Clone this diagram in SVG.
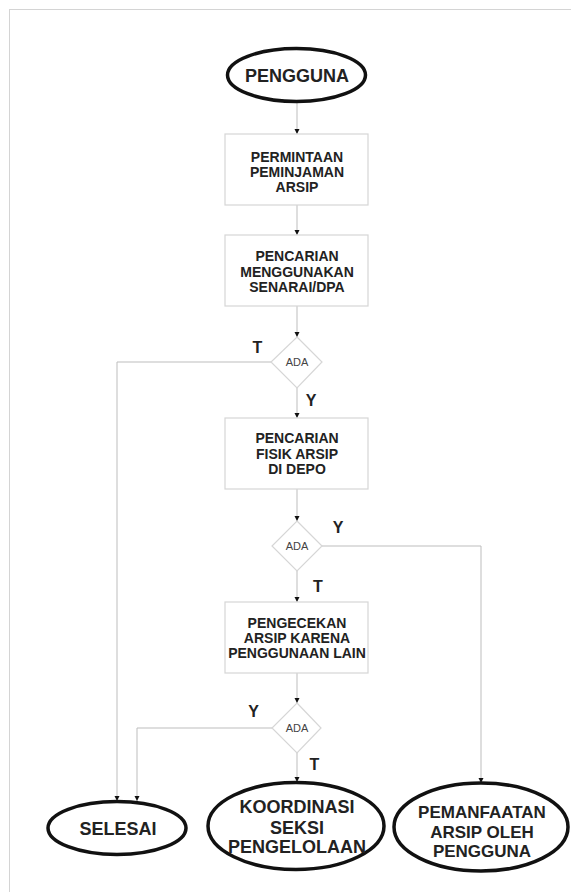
<svg xmlns="http://www.w3.org/2000/svg" width="571" height="892" viewBox="0 0 571 892">
<style>
.frame{fill:none;stroke:#d4d4d4;stroke-width:1}
.box{fill:#fff;stroke:#d6d6d6;stroke-width:1.2}
.dia{fill:#fff;stroke:#d6d6d6;stroke-width:1.2}
.term{fill:#fff;stroke:#111;stroke-width:3.5}
.bt{font-family:"Liberation Sans",Arial,sans-serif;font-weight:bold;font-size:14px;fill:#222;text-anchor:middle}
.tt{font-family:"Liberation Sans",Arial,sans-serif;font-weight:bold;font-size:18px;fill:#222;text-anchor:middle}
.dt{font-family:"Liberation Sans",Arial,sans-serif;font-size:11px;fill:#444;text-anchor:middle}
.lb{font-family:"Liberation Sans",Arial,sans-serif;font-weight:bold;font-size:16px;fill:#222;text-anchor:middle}
.con{fill:none;stroke:#bdbdbd;stroke-width:1}
</style>
<defs>
<marker id="ah" markerUnits="userSpaceOnUse" markerWidth="6" markerHeight="6" refX="5" refY="3" orient="auto">
<path d="M0,0.5 L5,3 L0,5.5 Z" fill="#111"/>
</marker>
</defs>
<rect class="frame" x="9.5" y="9.5" width="600" height="900"/>
<g id="connectors">
<path class="con" d="M297,103 V134" marker-end="url(#ah)"/>
<path class="con" d="M297,205 V235" marker-end="url(#ah)"/>
<path class="con" d="M297,306 V337" marker-end="url(#ah)"/>
<path class="con" d="M297,388 V418" marker-end="url(#ah)"/>
<path class="con" d="M271,362 H117 V801" marker-end="url(#ah)"/>
<path class="con" d="M297,489 V521" marker-end="url(#ah)"/>
<path class="con" d="M322,546 H481 V783" marker-end="url(#ah)"/>
<path class="con" d="M297,571 V602" marker-end="url(#ah)"/>
<path class="con" d="M297,673 V703" marker-end="url(#ah)"/>
<path class="con" d="M272,728 H137 V801" marker-end="url(#ah)"/>
<path class="con" d="M297,753 V782" marker-end="url(#ah)"/>
<text class="lb" x="257.5" y="353">T</text>
<text class="lb" x="311" y="406">Y</text>
<text class="lb" x="338" y="533">Y</text>
<text class="lb" x="318" y="592">T</text>
<text class="lb" x="253.5" y="717">Y</text>
<text class="lb" x="314.5" y="770">T</text>
</g>
<g id="pengguna">
<ellipse class="term" cx="296.5" cy="75" rx="69" ry="26.5"/>
<text class="tt" x="297" y="82">PENGGUNA</text>
</g>
<g id="permintaan">
<rect class="box" x="225" y="134" width="143" height="71"/>
<text class="bt" x="297" y="162">PERMINTAAN</text>
<text class="bt" x="297" y="177">PEMINJAMAN</text>
<text class="bt" x="297" y="192">ARSIP</text>
</g>
<g id="pencarian-senarai">
<rect class="box" x="225" y="235" width="143" height="71"/>
<text class="bt" x="297" y="261">PENCARIAN</text>
<text class="bt" x="297" y="277">MENGGUNAKAN</text>
<text class="bt" x="297" y="292">SENARAI/DPA</text>
</g>
<g id="ada1">
<polygon class="dia" points="297,337 322,362 297,388 271,362"/>
<text class="dt" x="297" y="366">ADA</text>
</g>
<g id="pencarian-fisik">
<rect class="box" x="225" y="418" width="143" height="71"/>
<text class="bt" x="297" y="443">PENCARIAN</text>
<text class="bt" x="297" y="459">FISIK ARSIP</text>
<text class="bt" x="297" y="474">DI DEPO</text>
</g>
<g id="ada2">
<polygon class="dia" points="297,521 322,546 297,571 272,546"/>
<text class="dt" x="297" y="550">ADA</text>
</g>
<g id="pengecekan">
<rect class="box" x="225" y="602" width="143" height="71"/>
<text class="bt" x="297" y="628">PENGECEKAN</text>
<text class="bt" x="297" y="643">ARSIP KARENA</text>
<text class="bt" x="297" y="658">PENGGUNAAN LAIN</text>
</g>
<g id="ada3">
<polygon class="dia" points="297,703 321,728 297,753 272,728"/>
<text class="dt" x="297" y="732">ADA</text>
</g>
<g id="selesai">
<ellipse class="term" cx="117" cy="828" rx="69" ry="26.5"/>
<text class="tt" x="118" y="835">SELESAI</text>
</g>
<g id="koordinasi">
<ellipse class="term" cx="296" cy="826" rx="88" ry="43.5"/>
<text class="tt" x="297" y="813">KOORDINASI</text>
<text class="tt" x="297" y="834">SEKSI</text>
<text class="tt" x="297" y="853">PENGELOLAAN</text>
</g>
<g id="pemanfaatan">
<ellipse class="term" cx="481" cy="827" rx="87" ry="44"/>
<text class="tt" x="482" y="818" style="font-size:17px">PEMANFAATAN</text>
<text class="tt" x="482" y="838" style="font-size:17px">ARSIP OLEH</text>
<text class="tt" x="482" y="857" style="font-size:17px">PENGGUNA</text>
</g>
</svg>
